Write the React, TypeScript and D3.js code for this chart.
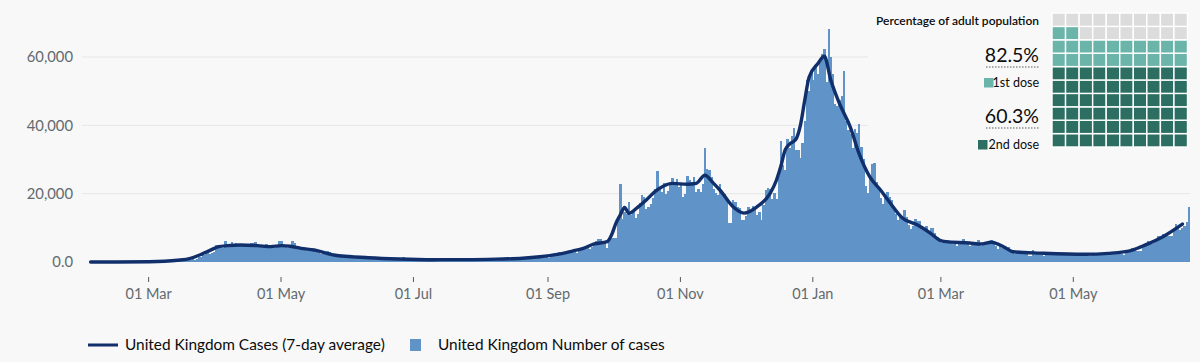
import React, { useEffect, useRef } from "react";
import * as d3 from "d3";

// daily reported cases, starting 31 Jan 2020 (one row per month)
const cases2020 = [
  2,
  0, 0, 0, 0, 1, 0, 0, 1, 4, 1, 0, 1, 0, 0, 0, 0, 0, 0, 0, 0, 0, 0, 0, 4, 0, 0, 2, 2, 5,
  13, 4, 11, 34, 30, 48, 43, 67, 46, 50, 87, 134, 208, 342, 251, 152, 407, 676, 643, 714, 1035, 665, 967, 1427, 1452, 2129, 2885, 2546, 2433, 2619, 3009,
  4900, 4700, 5000, 4200, 6100, 4500, 4300, 5800, 5000, 5600, 5300, 5300, 4700, 5200, 4900, 4800, 5600, 5500, 5800, 4900, 4500, 4800, 4800, 5400, 5000, 4600, 4500, 4200, 4600, 6100,
  6200, 4806, 4339, 3985, 4406, 6111, 5614, 4649, 3896, 3923, 3877, 3403, 3242, 3446, 3560, 3451, 3142, 2684, 2412, 2472, 2615, 3287, 2959, 2405, 1625, 1887, 2095, 1887, 2095, 1712, 1570,
  1936, 1871, 1805, 1650, 1557, 1326, 1205, 1741, 1003, 1266, 1541, 1425, 1514, 1056, 1279, 1115, 1218, 1346, 1295, 1221, 1294, 958, 874, 653, 1118, 1380, 890, 901, 815, 689,
  829, 576, 544, 624, 516, 352, 581, 630, 642, 512, 820, 650, 530, 538, 581, 642, 687, 827, 726, 580, 445, 560, 769, 767, 798, 754, 685, 581, 763, 846, 880,
  743, 744, 758, 670, 892, 950, 871, 758, 1062, 816, 1148, 1009, 1441, 1012, 1077, 1040, 713, 1089, 812, 1182, 1033, 1288, 1041, 853, 1184, 1048, 1522, 1276, 1108, 1715, 1406,
  1295, 1508, 1735, 1940, 1813, 2988, 2948, 2460, 2659, 2919, 3539, 3497, 3330, 2621, 3105, 3991, 3395, 4322, 4422, 3899, 4368, 4926, 6178, 6634, 6874, 6042, 5693, 4044, 7143, 7108,
  6914, 6968, 12872, 22961, 12594, 14542, 14162, 17540, 13864, 15166, 12872, 13972, 17234, 19724, 18980, 15650, 16171, 16982, 18804, 21331, 26688, 21242, 20530, 23012, 19790, 20890, 22885, 24701, 23065, 24405, 21915,
  23254, 18950, 20018, 25177, 24141, 23287, 24957, 20572, 21350, 20412, 22950, 33470, 27301, 26860, 24962, 21363, 20051, 19609, 22915, 20252, 19875, 18662, 11299, 11531, 18213, 17555, 16022, 15871, 12155, 12330,
  13430, 16170, 14879, 16298, 15539, 13658, 14718, 12282, 16578, 20964, 21672, 21502, 18447, 20263, 18450, 25161, 35383, 28507, 27052, 35928, 33364, 36804, 39237, 32725, 32725, 30501, 34693, 41385, 53135, 50023, 55892,
];

const cases2021 = [
  53285, 57725, 54990, 58784, 60916, 62322, 52618, 68053, 59937, 54940, 46169, 45533, 47525, 48682, 55761, 41346, 38598, 37535, 33355, 38905, 37892, 40261, 33552, 30004, 22195, 20089, 25308, 28680, 29079, 23275, 21088,
  18607, 16840, 19202, 20634, 19114, 18262, 15845, 14104, 12364, 13494, 13013, 15144, 13308, 10972, 9765, 10625, 12718, 12057, 12027, 10406, 9834, 10641, 8489, 9938, 9985, 8523, 7434, 6035,
  5455, 6391, 5766, 6573, 6040, 5177, 5177, 4712, 5766, 5926, 6609, 5534, 5308, 4618, 5089, 5294, 5758, 6303, 4802, 5312, 5587, 5342, 5379, 6397, 6187, 4715, 3862, 4654, 4052, 4040, 4052,
  4479, 3402, 3423, 2297, 2762, 2379, 3150, 3030, 3060, 1730, 1882, 3568, 2491, 2963, 2672, 2596, 1882, 2524, 2396, 2729, 2678, 2613, 2174, 1946, 2685, 2064, 2166, 2445, 2696, 2381,
  1907, 1671, 2357, 1946, 2613, 2490, 2047, 1770, 1649, 2474, 2284, 2657, 2193, 2027, 1926, 2235, 2412, 2696, 2874, 2829, 2694, 2439, 2240, 1979, 2493, 3180, 3542, 4182, 3398, 3240, 3165,
  3165, 4330, 5274, 6238, 5765, 5341, 5683, 6048, 7540, 7393, 8125, 7738, 7490, 7673, 7742, 9055, 11007, 10476, 9284, 9945, 10633, 11625, 16135,
];

// 7-day average
const avgDates = [
  "2020-02-03", "2020-02-15", "2020-03-01", "2020-03-08", "2020-03-14", "2020-03-20", "2020-03-25", "2020-03-29",
  "2020-04-02", "2020-04-06", "2020-04-12", "2020-04-20", "2020-04-26", "2020-05-01", "2020-05-05", "2020-05-10",
  "2020-05-16", "2020-05-25", "2020-06-10", "2020-06-24", "2020-07-10", "2020-07-25", "2020-08-08", "2020-08-20",
  "2020-08-28", "2020-09-05", "2020-09-12", "2020-09-17", "2020-09-22", "2020-09-28", "2020-09-30", "2020-10-02",
  "2020-10-04", "2020-10-06", "2020-10-08", "2020-10-12", "2020-10-16", "2020-10-20", "2020-10-24", "2020-10-28",
  "2020-11-04", "2020-11-08", "2020-11-12", "2020-11-16", "2020-11-19", "2020-11-25", "2020-11-30", "2020-12-06",
  "2020-12-12", "2020-12-15", "2020-12-17", "2020-12-19", "2020-12-21", "2020-12-24", "2020-12-26", "2020-12-28",
  "2020-12-30", "2021-01-03", "2021-01-06", "2021-01-09", "2021-01-13", "2021-01-18", "2021-01-22", "2021-01-27",
  "2021-02-01", "2021-02-05", "2021-02-11", "2021-02-18", "2021-02-24", "2021-02-28", "2021-03-03", "2021-03-14",
  "2021-03-19", "2021-03-24", "2021-03-30", "2021-04-03", "2021-04-16", "2021-05-06", "2021-05-17", "2021-05-28",
  "2021-06-03", "2021-06-11", "2021-06-20",
];
const avgValues = [
  0, 5, 60, 200, 500, 1080, 2250, 3400,
  4480, 4780, 4980, 4780, 4500, 4780, 4600, 4000,
  3500, 2050, 1260, 880, 680, 700, 850, 1100,
  1550, 2250, 3200, 4000, 5270, 5940, 7900, 11300,
  13750, 16000, 14250, 16000, 18150, 20600, 22250, 23000,
  22750, 23000, 25400, 23000, 21000, 16150, 14300, 16150,
  20000, 24000, 28000, 32800, 34500, 36000, 40000, 47300,
  54100, 58000, 60200, 53300, 46400, 39500, 31800, 24900,
  21000, 17600, 12900, 10800, 8400, 6440, 5950, 5560,
  5250, 5800, 4300, 3000, 2600, 2250, 2540, 3500,
  5000, 7400, 11100,
];

const yTicks = [0, 20000, 40000, 60000];
const yTickLabels = ["0.0", "20,000", "40,000", "60,000"];
const xTicks = ["2020-03-01", "2020-05-01", "2020-07-01", "2020-09-01", "2020-11-01", "2021-01-01", "2021-03-01", "2021-05-01"];

const doseLabels = ["1st dose", "2nd dose"];
const dosePct = [82.5, 60.3];

const legendLabels = ["United Kingdom Cases (7-day average)", "United Kingdom Number of cases"];

const BG = "#f8f8f8";
const BAR = "#6093c7";
const LINE = "#112f6b";
const FONT = "Lato, 'Noto Sans', sans-serif";

const App = () => {
  const ref = useRef<SVGSVGElement | null>(null);

  useEffect(() => {
    const width = 1200;
    const height = 362;
    const parse = d3.utcParse("%Y-%m-%d");
    const start = parse("2020-01-31") as Date;

    const svg = d3.select(ref.current);
    svg.selectAll("*").remove();
    svg.attr("font-family", FONT);

    svg.append("rect").attr("width", width).attr("height", height).attr("fill", BG);

    const x = d3
      .scaleUtc()
      .domain([start, parse("2021-06-24") as Date])
      .range([83, 1190]);
    const y = d3.scaleLinear().domain([0, 60000]).range([262, 57]);

    const daily = [...cases2020, ...cases2021].map((v, i) => ({
      date: d3.utcDay.offset(start, i),
      v,
    }));
    const step = x(d3.utcDay.offset(start, 1)) - x(start);

    // gridlines + y labels
    const gy = svg.append("g");
    gy.selectAll("line")
      .data(yTicks.slice(1))
      .join("line")
      .attr("x1", 82)
      .attr("x2", 1190)
      .attr("y1", (d) => y(d))
      .attr("y2", (d) => y(d))
      .attr("stroke", "#e6e6e6");
    gy.selectAll("text")
      .data(yTicks)
      .join("text")
      .attr("x", 73)
      .attr("y", (d) => y(d))
      .attr("dy", "0.35em")
      .attr("text-anchor", "end")
      .attr("font-size", 14.8)
      .attr("fill", "#626a6e")
      .text((d, i) => yTickLabels[i]);

    // bars
    svg
      .append("g")
      .attr("fill", BAR)
      .attr("shape-rendering", "crispEdges")
      .selectAll("rect")
      .data(daily)
      .join("rect")
      .attr("x", (d) => x(d.date))
      .attr("width", step + 0.3)
      .attr("y", (d) => y(d.v))
      .attr("height", (d) => y(0) - y(d.v));

    // average line
    const avg = avgDates.map((d, i) => ({ date: parse(d) as Date, v: avgValues[i] }));
    const line = d3
      .line<{ date: Date; v: number }>()
      .x((d) => x(d.date) + step / 2)
      .y((d) => y(d.v))
      .curve(d3.curveMonotoneX);
    svg
      .append("path")
      .datum(avg)
      .attr("d", line)
      .attr("fill", "none")
      .attr("stroke", LINE)
      .attr("stroke-width", 3.4)
      .attr("stroke-linejoin", "round")
      .attr("stroke-linecap", "round");

    // x axis
    const xAxis = d3
      .axisBottom(x)
      .tickValues(xTicks.map((d) => parse(d) as Date))
      .tickFormat((d) => d3.utcFormat("%d %b")(d as Date))
      .tickSize(5)
      .tickPadding(7);
    const ax = svg.append("g").attr("transform", "translate(0,277)").call(xAxis);
    ax.select(".domain").remove();
    ax.selectAll("line").attr("stroke", "#505a5f");
    ax.selectAll("text")
      .attr("font-size", 14.5)
      .attr("font-family", FONT)
      .attr("fill", "#626a6e");

    // vaccination panel
    const panel = svg.append("g");
    panel.append("rect").attr("x", 868).attr("y", 0).attr("width", 332).attr("height", 155).attr("fill", BG);

    const cell = 13.55;
    const cellH = 13.4;
    const gx = 1052;
    const gTop = 13;
    const colors = ["#2c6e61", "#6bb4a9", "#dcdcdc"];
    const cells = d3.range(100).map((i) => ({
      col: i % 10,
      row: Math.floor(i / 10),
      kind: i < Math.floor(dosePct[1]) ? 0 : i < Math.floor(dosePct[0]) ? 1 : 2,
    }));
    panel
      .append("g")
      .selectAll("rect")
      .data(cells)
      .join("rect")
      .attr("x", (d) => gx + d.col * cell)
      .attr("y", (d) => gTop + (9 - d.row) * cellH)
      .attr("width", cell)
      .attr("height", cellH)
      .attr("fill", (d) => colors[d.kind])
      .attr("stroke", "#ffffff")
      .attr("stroke-width", 1.4);

    panel
      .append("text")
      .attr("x", 1039)
      .attr("y", 25)
      .attr("text-anchor", "end")
      .attr("font-size", 12)
      .attr("font-weight", 600)
      .attr("fill", "#0b0c0c")
      .text("Percentage of adult population");

    const pctY = [62, 123];
    const doseY = [87, 149];
    const swatchX = [984, 978];
    doseLabels.forEach((label, i) => {
      panel
        .append("text")
        .attr("x", 1039)
        .attr("y", pctY[i])
        .attr("text-anchor", "end")
        .attr("font-size", 19.5)
        .attr("fill", "#0b0c0c")
        .text(`${dosePct[i].toFixed(1)}%`);
      panel
        .append("line")
        .attr("x1", 986)
        .attr("x2", 1040)
        .attr("y1", pctY[i] + 5)
        .attr("y2", pctY[i] + 5)
        .attr("stroke", "#505a5f")
        .attr("stroke-dasharray", "1.5,1.5");
      panel
        .append("rect")
        .attr("x", swatchX[i])
        .attr("y", doseY[i] - 9)
        .attr("width", 9.5)
        .attr("height", 9.5)
        .attr("fill", colors[1 - i]);
      panel
        .append("text")
        .attr("x", 1039)
        .attr("y", doseY[i])
        .attr("text-anchor", "end")
        .attr("font-size", 12.5)
        .attr("fill", "#0b0c0c")
        .text(label);
    });

    // legend
    const lg = svg.append("g").attr("font-size", 15.4).attr("fill", "#0b0c0c");
    lg.append("line")
      .attr("x1", 88)
      .attr("x2", 118)
      .attr("y1", 345)
      .attr("y2", 345)
      .attr("stroke", LINE)
      .attr("stroke-width", 3);
    lg.append("text").attr("x", 125).attr("y", 350).text(legendLabels[0]);
    lg.append("rect").attr("x", 410).attr("y", 339).attr("width", 11).attr("height", 12).attr("fill", BAR);
    lg.append("text").attr("x", 438).attr("y", 350).text(legendLabels[1]);
  }, []);

  return (
    <svg
      ref={ref}
      width={1200}
      height={362}
      style={{ position: "fixed", top: 0, left: 0, display: "block" }}
    />
  );
};

export default App;
